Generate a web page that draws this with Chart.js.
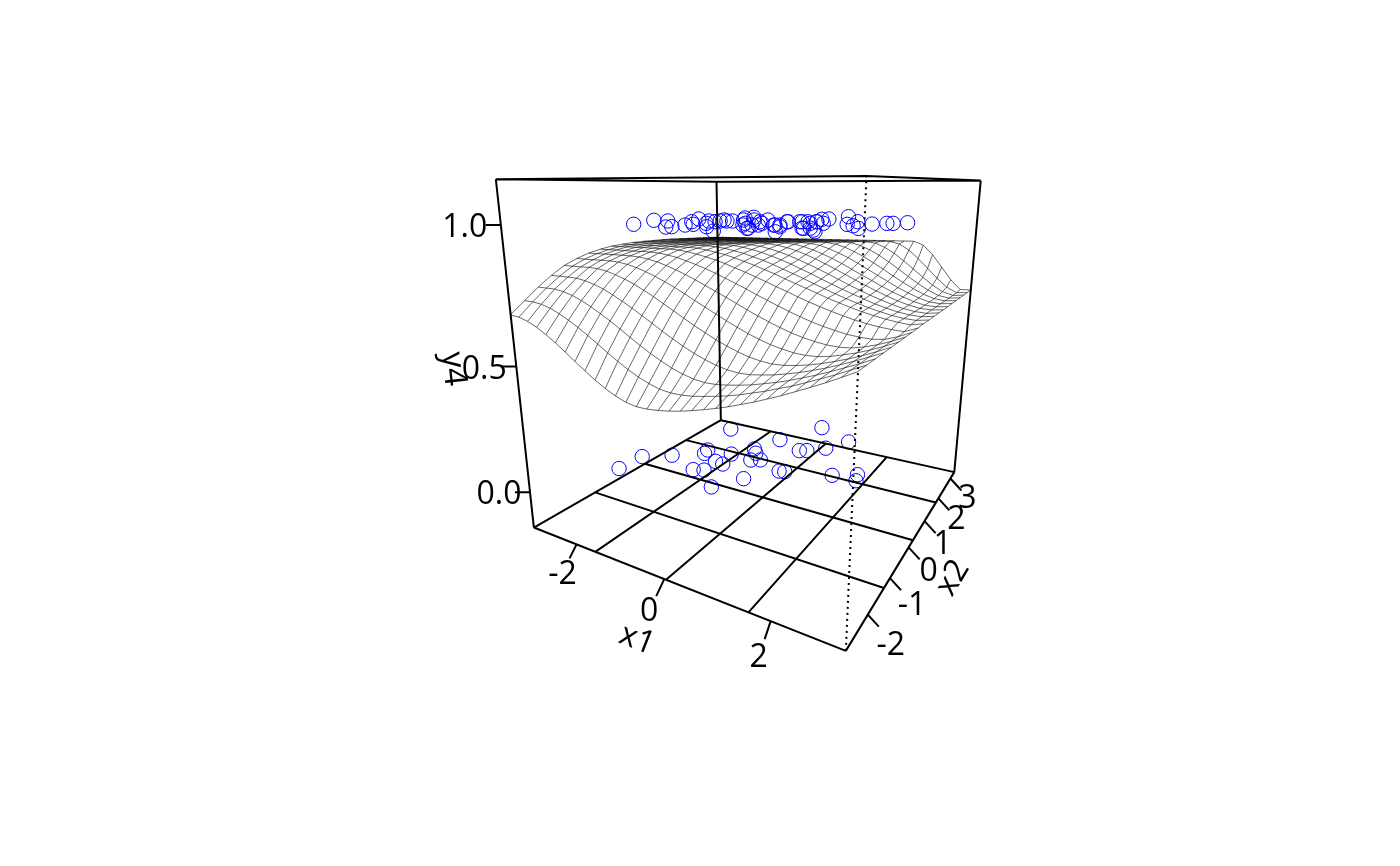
<!DOCTYPE html>
<html>
<head>
<meta charset="utf-8">
<style>
  html, body { margin: 0; background: #fff; }
  #chart { display: block; }
</style>
<script src="https://cdn.jsdelivr.net/npm/chart.js@4"></script>
</head>
<body>
<canvas id="chart" width="1400" height="866"></canvas>
<script>
const x1Ticks = [-2, 0, 2];
const x2Ticks = [-2, -1, 0, 1, 2, 3];
const yTicks = [0, 0.5, 1];
const x1Labels = ['-2', '0', '2'];
const x2Labels = ['-2', '-1', '0', '1', '2', '3'];
const yLabels = ['0.0', '0.5', '1.0'];

// observations with y4 = 0
const x1Low = [-2.38,-2.35,-1.85,-1.56,-1.35,-1.31,-0.8,-1.06,-0.86,-0.89,-0.69,-0.33,0.02,-0.51,-0.37,-0.29,-0.12,-0.27,0.25,1.11,0.81,0.37,0.51,0.46,0.57,1.45,1.87,1.94];
const x2Low = [-1.3,-0.65,-0.29,1.5,0.29,0.12,0.37,-0.61,-0.52,-0.08,-0.11,-1.02,-0.44,0.83,0.66,0.33,0.43,1.53,2.62,2.17,1.62,1.23,1.31,0.18,0.21,0.53,0.8,0.55];
// observations with y4 = 1
const x1High = [-1.35,-1.87,-1.49,-0.43,-0.4,-0.48,-0.48,-0.97,-1.42,-0.46,0.08,-0.84,0.72,-0.61,-0.66,-0.79,-0.55,-0.46,-0.47,0.12,0.83,0.47,-0.3,0.56,0.37,-0.07,0.78,1.55,1.08,0.53,0.71,1.57,1.09,2.03,0.97,1.28,0.77,0.74,1.75,1.98,1.61,2.29,2.08,2.23,2.32,2.48,-0.84,-0.84,0.34,0.81,0.09,0.8,0.87,0.51,0.75,1.52,0.84,1.63,0.98,0.7,1.86];
const x2High = [-1.63,-0.51,-0.57,-1.92,-1.81,-1.37,-1.15,-0.54,0.28,-0.81,-1.55,-0.2,-2.28,-0.33,-0.1,0.22,-0.04,0.01,0.4,-0.48,-1.56,-0.83,0.5,-0.78,-0.34,0.62,-0.66,-1.97,-0.99,0.31,0.41,-1.14,0.06,-1.7,0.56,0.18,1.53,2.58,0.11,-0.19,0.93,-0.74,0.4,0.71,0.77,1.07,1.04,1.38,-0.9,-1.49,0.06,-0.65,-0.61,0.3,0.43,-1.09,0.48,-1.03,0.56,1.36,-1.4];

const x1Grid = [-3.12,-2.91,-2.7,-2.49,-2.28,-2.07,-1.86,-1.65,-1.44,-1.23,-1.02,-0.81,-0.6,-0.39,-0.18,0.04,0.25,0.46,0.67,0.88,1.09,1.3,1.51,1.72,1.93,2.14,2.35,2.56,2.77,2.98,3.19];
const x2Grid = [-2.84,-2.53,-2.22,-1.91,-1.6,-1.29,-0.98,-0.67,-0.36,-0.05,0.26,0.57,0.87,1.18,1.49,1.8,2.11,2.42,2.73,3.04,3.35];
// fitted y4 in thousandths, one row per x2Grid value
const surface = [
[690,686,676,660,639,616,590,563,537,512,490,472,458,451,451,455,461,469,479,490,502,515,530,545,562,579,598,617,637,658,680],
[730,730,725,715,700,682,661,638,614,589,566,544,525,510,498,493,493,497,504,512,521,532,545,558,573,588,605,623,641,661,681],
[770,770,770,764,754,740,722,702,681,658,634,611,589,570,552,538,528,523,524,529,536,544,555,566,579,594,609,626,644,662,682],
[805,805,805,804,798,788,775,758,739,719,697,675,652,631,611,592,577,564,555,551,552,558,565,575,586,599,613,629,646,664,683],
[835,835,835,836,834,828,818,805,790,772,753,732,711,690,669,649,630,614,600,588,581,577,579,585,593,604,617,631,647,665,684],
[855,855,855,856,856,854,848,839,827,813,797,780,761,741,722,702,683,665,648,634,621,612,605,602,604,611,622,634,649,666,685],
[870,870,871,871,871,871,869,864,856,845,832,818,802,785,768,750,732,714,697,681,666,653,642,634,628,626,629,638,651,667,686],
[880,880,881,881,881,882,882,880,875,868,858,847,835,821,806,790,774,757,741,725,710,696,683,672,663,655,651,649,654,668,687],
[887,887,888,888,889,889,889,890,888,884,877,869,860,849,836,823,809,795,780,766,751,737,724,712,701,691,683,677,673,671,688],
[890,890,891,891,892,892,893,893,893,892,887,881,874,864,853,841,828,815,800,786,772,758,744,731,719,708,699,691,685,681,690],
[892,893,893,894,894,895,895,896,896,896,894,890,883,875,864,853,840,825,811,796,780,765,750,736,723,711,701,692,686,684,690],
[892,893,893,894,894,895,895,896,896,897,897,896,891,884,875,863,851,837,821,806,789,773,757,742,728,714,703,693,687,685,691],
[891,892,892,893,893,894,895,895,896,896,897,898,896,892,884,874,862,848,833,817,800,783,765,749,733,719,706,695,688,686,692],
[890,891,891,892,893,893,894,895,895,896,897,897,898,897,893,885,875,862,847,830,812,794,775,757,740,724,709,697,689,687,692],
[888,889,889,890,891,892,892,893,894,894,895,896,896,897,897,894,886,875,861,845,827,807,787,768,748,730,714,700,690,688,693],
[885,886,887,887,888,889,890,890,891,892,893,893,894,895,896,896,894,888,876,861,844,824,802,781,759,738,720,704,692,689,694],
[882,883,884,884,885,886,887,888,888,889,890,891,892,892,893,894,895,895,890,879,863,844,821,798,773,750,728,709,695,690,695],
[879,880,881,882,882,883,884,885,886,887,888,888,889,890,891,892,893,893,894,893,883,867,846,821,794,766,740,716,698,691,696],
[876,877,878,879,880,881,881,882,883,884,885,886,887,888,889,890,890,891,892,893,894,890,874,851,822,790,758,728,704,692,697],
[873,874,875,876,877,878,879,880,881,882,883,883,884,885,886,887,888,889,890,891,892,893,894,885,861,827,788,749,714,694,698],
[870,871,872,873,874,875,876,877,878,879,880,881,882,883,884,885,886,887,888,889,890,891,892,893,894,879,840,789,737,698,700]
];

const x1Lim = [-3.12, 3.194], x2Lim = [-2.836, 3.351], yLim = [-0.151, 1.149];
// viewing transform of the box, like the matrix persp() returns
const camera = [87.4874,518.4122,-109.291,533.8933,-49.40933,85.78094,-374.1381,527.5503,-0.2653672,0.4597689,-0.1436458,1];

function project(a, b, c) {
  const u = (a-x1Lim[0])/(x1Lim[1]-x1Lim[0]), v = (b-x2Lim[0])/(x2Lim[1]-x2Lim[0]), w = (c-yLim[0])/(yLim[1]-yLim[0]);
  const P = camera, h = P[8]*u+P[9]*v+P[10]*w+1;
  return { x: (P[0]*u+P[1]*v+P[2]*w+P[3])/h, y: (P[4]*u+P[5]*v+P[6]*w+P[7])/h };
}
const gap = { x: null, y: null };
const [x0,x3] = x1Lim, [s0,s3] = x2Lim, [y0,y3] = yLim;
const x1At = f => x0+f*(x3-x0), x2At = f => s0+f*(s3-s0);

const box = [];
const edge = (a,b) => box.push(project(...a), project(...b), gap);
edge([x0,s0,y0],[x3,s0,y0]); edge([x3,s0,y0],[x3,s3,y0]); edge([x3,s3,y0],[x0,s3,y0]); edge([x0,s3,y0],[x0,s0,y0]);
edge([x0,s0,y3],[x3,s0,y3]); edge([x3,s0,y3],[x3,s3,y3]); edge([x3,s3,y3],[x0,s3,y3]); edge([x0,s3,y3],[x0,s0,y3]);
edge([x0,s0,y0],[x0,s0,y3]); edge([x3,s3,y0],[x3,s3,y3]); edge([x0,s3,y0],[x0,s3,y3]);
[0.25,0.5,0.75].forEach(f => {
  edge([x1At(f),s0,y0],[x1At(f),s3,y0]);
  edge([x0,x2At(f),y0],[x3,x2At(f),y0]);
});

// tick marks and labels sit at a fixed pixel offset from the axis
const x1Drop = [[-7,14],[-8,17],[-6,18]];
const x1Text = [[-14,30],[-15,33],[-12,37]];
const x2Text = [[23,31],[22,28],[20,25],[18,24],[18,22],[17,20]];
const yTextX = [-31,-32,-36];
const ticks = [], labels = [];
x1Ticks.forEach((t,i) => {
  const p = project(t,s0,y0);
  ticks.push(p, { x: p.x+x1Drop[i][0], y: p.y+x1Drop[i][1] }, gap);
  labels.push([x1Labels[i], p.x+x1Text[i][0], p.y+x1Text[i][1], 0]);
});
x2Ticks.forEach((t,i) => {
  const p = project(x3,t,y0);
  ticks.push(p, { x: p.x+11, y: p.y+12 }, gap);
  labels.push([x2Labels[i], p.x+x2Text[i][0], p.y+x2Text[i][1], 0]);
});
yTicks.forEach((t,i) => {
  const p = project(x0,s0,t);
  ticks.push(p, { x: p.x-15, y: p.y }, gap);
  labels.push([yLabels[i], p.x+yTextX[i], p.y+3, 0]);
});
labels.push(['x1',637,640,21.5], ['x2',953,578,-59], ['y4',453,369,84]);

const mesh = [];
x2Grid.forEach((b,j) => { x1Grid.forEach((a,i) => mesh.push(project(a,b,surface[j][i]/1000))); mesh.push(gap); });
x1Grid.forEach((a,i) => { x2Grid.forEach((b,j) => mesh.push(project(a,b,surface[j][i]/1000))); mesh.push(gap); });

const textPlugin = { id: 'axisText', afterDatasetsDraw(chart) {
  const { ctx, scales: { x, y } } = chart;
  ctx.save();
  ctx.fillStyle = '#000'; ctx.font = '32px "Open Sans"'; ctx.textAlign = 'center'; ctx.textBaseline = 'middle';
  labels.forEach(([s,a,b,r]) => {
    ctx.save();
    ctx.translate(x.getPixelForValue(a), y.getPixelForValue(b));
    ctx.rotate(r*Math.PI/180);
    ctx.fillText(s,0,0);
    ctx.restore();
  });
  ctx.restore();
}};
const line = (data, width, extra) => Object.assign({ data, showLine: true, borderColor: '#000', borderWidth: width, pointRadius: 0, spanGaps: false, tension: 0 }, extra);
const circles = data => ({ data, showLine: false, pointStyle: 'circle', pointRadius: 7.2, pointBorderColor: '#0000ff', pointBorderWidth: 1, pointBackgroundColor: 'transparent' });

new Chart(document.getElementById('chart'), {
  type: 'scatter',
  data: { datasets: [
    line(mesh, 0.6),
    line(box, 2),
    line(ticks, 2),
    line([project(x3,s0,y0), project(x3,s0,y3)], 2, { borderDash: [2,4] }),
    circles(x1Low.map((a,i) => project(a,x2Low[i],0))),
    circles(x1High.map((a,i) => project(a,x2High[i],1)))
  ] },
  options: {
    responsive: false, animation: false, layout: { padding: 0, autoPadding: false },
    plugins: { legend: { display: false }, tooltip: { enabled: false } },
    scales: {
      x: { type: 'linear', min: 0, max: 1400, display: false },
      y: { type: 'linear', min: 0, max: 866, reverse: true, display: false }
    }
  },
  plugins: [textPlugin]
});
</script>
</body>
</html>
